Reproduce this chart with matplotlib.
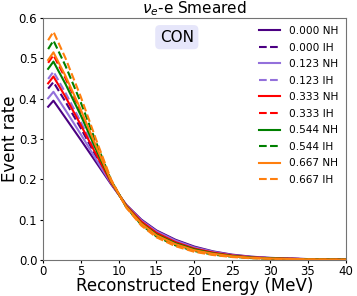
import matplotlib
matplotlib.use("Agg")
import matplotlib.pyplot as plt

# reconstructed energy grid (MeV) and event rates
energy = [0.7, 1.4, 3, 5, 7, 9, 11, 13, 15, 17.5, 20, 22.5, 25, 27.5, 30, 35, 40]

rate_000_nh = [.380, .395, .352, .298, .243, .188, .137, .100, .073, .050, .033, .021, .013, .008, .005, .002, .0008]
rate_000_ih = [.425, .441, .392, .327, .258, .191, .135, .096, .068, .046, .029, .019, .011, .007, .0043, .0017, .0007]
rate_123_nh = [.401, .417, .371, .312, .250, .190, .136, .098, .071, .048, .031, .020, .012, .0075, .0047, .0019, .0007]
rate_123_ih = [.449, .467, .414, .343, .267, .193, .134, .094, .066, .043, .028, .017, .0105, .0063, .004, .0016, .0006]
rate_333_nh = [.438, .455, .404, .335, .263, .192, .135, .095, .067, .044, .028, .018, .011, .0066, .0041, .0017, .0006]
rate_333_ih = [.489, .508, .450, .369, .281, .196, .132, .090, .062, .039, .024, .015, .009, .0054, .0034, .0013, .0005]
rate_544_nh = [.474, .492, .436, .359, .275, .195, .133, .091, .063, .041, .026, .016, .0096, .0057, .0036, .0014, .0005]
rate_544_ih = [.523, .544, .481, .391, .293, .198, .131, .087, .058, .036, .022, .013, .0078, .0045, .0028, .0011, .0004]
rate_667_nh = [.496, .515, .456, .373, .283, .196, .132, .090, .061, .039, .024, .015, .0088, .0052, .0033, .0013, .0005]
rate_667_ih = [.545, .566, .500, .405, .300, .200, .130, .085, .056, .034, .020, .012, .007, .004, .0025, .001, .0003]

labels = ["0.000 NH", "0.000 IH", "0.123 NH", "0.123 IH", "0.333 NH",
          "0.333 IH", "0.544 NH", "0.544 IH", "0.667 NH", "0.667 IH"]
series = [rate_000_nh, rate_000_ih, rate_123_nh, rate_123_ih, rate_333_nh,
          rate_333_ih, rate_544_nh, rate_544_ih, rate_667_nh, rate_667_ih]
colors = ["indigo", "mediumpurple", "red", "green", "tab:orange"]

fig = plt.figure(figsize=(3.57, 2.96), dpi=100)
ax = fig.add_axes([0.120, 0.122, 0.849, 0.817])

for i, (lab, y) in enumerate(zip(labels, series)):
    ls = "-" if i % 2 == 0 else "--"
    ax.plot(energy, y, ls, color=colors[i // 2], lw=1.5, label=lab)

ax.set_xlim(0, 40)
ax.set_ylim(0, 0.6)
ax.set_xticks(range(0, 41, 5))
ax.set_yticks([0.0, 0.1, 0.2, 0.3, 0.4, 0.5, 0.6])
ax.tick_params(labelsize=8.5, length=2.5, pad=1.5)
for s in ax.spines.values():
    s.set_color("0.45")

ax.set_title(r"$\nu_e$-e Smeared", fontsize=11, pad=2)
ax.set_xlabel("Reconstructed Energy (MeV)", fontsize=12, labelpad=-1)
ax.set_ylabel("Event rate", fontsize=12, labelpad=0)

ax.text(0.442, 0.921, "CON", transform=ax.transAxes, ha="center", va="center",
        fontsize=11, bbox=dict(boxstyle="round,pad=0.3", fc="lavender", ec="none"))

ax.legend(loc="upper right", frameon=False, fontsize=7.6, handlelength=2.0,
          labelspacing=0.62, borderaxespad=0.35)

fig.savefig("out.png", dpi=100)
